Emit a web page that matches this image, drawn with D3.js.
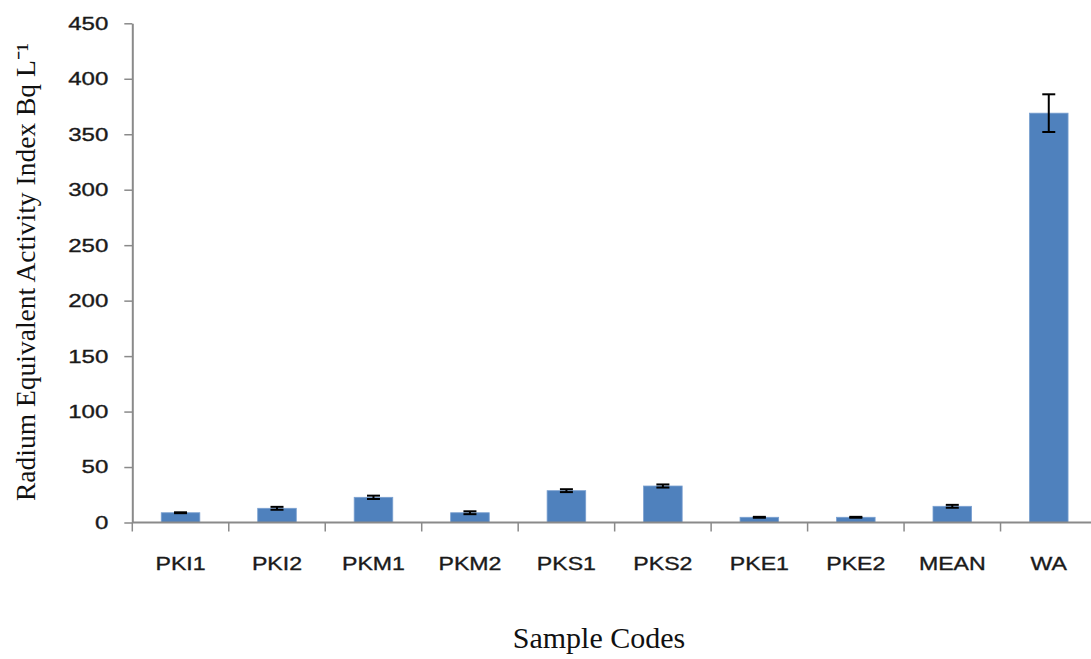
<!DOCTYPE html>
<html>
<head>
<meta charset="utf-8">
<script src="https://cdn.jsdelivr.net/npm/d3@7"></script>
<style>
  html, body { margin: 0; padding: 0; background: #fff; }
  svg { display: block; }
</style>
</head>
<body>
<svg id="chart" width="1091" height="659"></svg>
<script>
const categories = ["PKI1", "PKI2", "PKM1", "PKM2", "PKS1", "PKS2", "PKE1", "PKE2", "MEAN", "WA"];
const values = [8.8, 12.8, 22.7, 8.8, 28.7, 32.9, 4.7, 4.7, 14.6, 369];
const errors = [0.4, 1.3, 1.5, 1.3, 1.3, 1.4, 0.4, 0.4, 1.3, 17];
const yTicks = [0, 50, 100, 150, 200, 250, 300, 350, 400, 450];
const yTitle = "Radium Equivalent Activity Index Bq L\u207B\u00B9";
const xTitle = "Sample Codes";

(function () {
const svg = d3.select("#chart");
const mLeft = 132.3, mRight = 1097, mTop = 23.3, mBottom = 522.5;

const x = d3.scaleBand().domain(categories).range([mLeft, mRight]).paddingInner(0.6).paddingOuter(0.3);
const y = d3.scaleLinear().domain([0, 450]).range([mBottom, mTop]);

const axisColor = "#8a8a8a";
const data = categories.map((c, i) => ({ c, v: values[i], e: errors[i] }));

// bars
svg.append("g").selectAll("rect").data(data).join("rect")
  .attr("x", d => x(d.c))
  .attr("y", d => y(d.v))
  .attr("width", x.bandwidth())
  .attr("height", d => y(0) - y(d.v))
  .attr("fill", "#4F81BD")
  .attr("stroke", "#7aa0d0")
  .attr("stroke-width", 0.8);

// error bars
const eb = svg.append("g").attr("stroke", "#000").attr("stroke-width", 2);
data.forEach(d => {
  const cx = x(d.c) + x.bandwidth() / 2;
  const capW = 6.5;
  eb.append("line").attr("x1", cx).attr("x2", cx).attr("y1", y(d.v + d.e)).attr("y2", y(d.v - d.e));
  eb.append("line").attr("x1", cx - capW).attr("x2", cx + capW).attr("y1", y(d.v + d.e)).attr("y2", y(d.v + d.e));
  eb.append("line").attr("x1", cx - capW).attr("x2", cx + capW).attr("y1", y(d.v - d.e)).attr("y2", y(d.v - d.e));
});

// y axis
const yAxis = svg.append("g").attr("transform", `translate(${mLeft},0)`)
  .call(d3.axisLeft(y).tickValues(yTicks).tickSize(8).tickSizeOuter(0).tickPadding(0));
yAxis.select(".domain").attr("stroke", axisColor).attr("stroke-width", 2);
yAxis.selectAll(".tick line").attr("stroke", axisColor).attr("stroke-width", 1.5);
yAxis.selectAll(".tick text")
  .attr("x", 0)
  .attr("transform", "translate(-24,0) scale(1.3,1)")
  .attr("font-family", "'Liberation Sans', Arial, sans-serif")
  .attr("font-size", 18.5)
  .attr("fill", "#1a1a1a")
  .attr("stroke", "#1a1a1a").attr("stroke-width", 0.35);

// x axis
const xAxis = svg.append("g").attr("transform", `translate(0,${mBottom})`)
  .call(d3.axisBottom(x).tickSize(0).tickPadding(0));
xAxis.select(".domain").attr("stroke", axisColor).attr("stroke-width", 2)
  .attr("d", `M${mLeft},0H${mRight}`);
xAxis.selectAll(".tick text")
  .attr("y", 0).attr("dy", 0)
  .attr("transform", "translate(0,47) scale(1.25,1)")
  .attr("font-family", "'Liberation Sans', Arial, sans-serif")
  .attr("font-size", 18.5)
  .attr("fill", "#1a1a1a")
  .attr("stroke", "#1a1a1a").attr("stroke-width", 0.35);
// category boundary ticks
const step = x.step();
const boundaries = categories.map((c, i) => mLeft + i * step);
svg.append("g").selectAll("line").data(boundaries).join("line")
  .attr("x1", d => d).attr("x2", d => d)
  .attr("y1", mBottom).attr("y2", mBottom + 9)
  .attr("stroke", axisColor).attr("stroke-width", 1.5);

// titles
svg.append("text")
  .attr("transform", `translate(35,272) rotate(-90)`)
  .attr("text-anchor", "middle")
  .attr("font-family", "'Liberation Serif', 'Times New Roman', serif")
  .attr("font-size", 27.5)
  .attr("fill", "#111")
  .text(yTitle);

svg.append("text")
  .attr("x", 599).attr("y", 648)
  .attr("text-anchor", "middle")
  .attr("font-family", "'Liberation Serif', 'Times New Roman', serif")
  .attr("font-size", 30)
  .attr("fill", "#111")
  .text(xTitle);
})();
</script>
</body>
</html>
